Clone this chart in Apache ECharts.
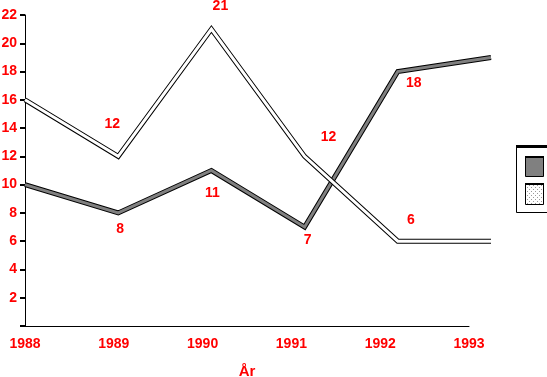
<!DOCTYPE html>
<html>
<head>
<meta charset="utf-8">
<script src="https://cdn.jsdelivr.net/npm/echarts@6/dist/echarts.min.js"></script>
<style>
html,body{margin:0;padding:0;background:#fff;}
#chart{width:547px;height:377px;}
</style>
</head>
<body>
<div id="chart"></div>
<script>
// ---- data ----
const categories = ['1988', '1989', '1990', '1991', '1992', '1993'];
const seriesA = [10, 8, 11, 7, 18, 19];   // dark grey series
const seriesB = [16, 12, 21, 12, 6, 6];   // white (dotted) series
const yTicks = [2, 4, 6, 8, 10, 12, 14, 16, 18, 20, 22];
const axisName = 'År';

// ---- label placement (style, not data) ----
const labelOffsetsA = [null, [2, 16], [1, 23], [3, 13], [16, 12], null];
const labelOffsetsB = [null, [-6, -32], [9, -23], [24, -19], [13, -21], null];

const RED = '#ff0000';
const FONT = 'Liberation Sans, Arial, sans-serif';
const FS = 14;

function labelled(values, offsets) {
  return values.map((v, i) => {
    const off = offsets[i];
    if (!off) return { value: v, label: { show: false } };
    return {
      value: v,
      label: {
        show: true, position: 'inside', offset: off,
        color: RED, fontSize: FS, fontWeight: 'bold', fontFamily: FONT,
        formatter: String(v)
      }
    };
  });
}

function lineSeries(data, color, width, z) {
  return {
    type: 'line', xAxisIndex: 1, yAxisIndex: 1,
    data: data, z: z,
    symbol: 'circle', symbolSize: 1, showSymbol: true,
    itemStyle: { color: 'rgba(0,0,0,0)' },
    lineStyle: { color: color, width: width, join: 'miter' },
    emphasis: { disabled: true },
    silent: true
  };
}

// dotted pattern for legend swatch
const pat = document.createElement('canvas');
pat.width = 4; pat.height = 4;
const pc = pat.getContext('2d');
pc.fillStyle = '#ffffff'; pc.fillRect(0, 0, 4, 4);
pc.fillStyle = '#9a9a9a'; pc.fillRect(1, 1, 1, 1); pc.fillRect(3, 3, 1, 1);

const chart = echarts.init(document.getElementById('chart'), null, { renderer: 'canvas' });
chart.setOption({
  animation: false,
  backgroundColor: '#ffffff',
  grid: [
    { left: 25, right: 78, top: 15, bottom: 51, containLabel: false, outerBoundsMode: 'none' },
    { left: 25, right: 56, top: 15, bottom: 51, containLabel: false, outerBoundsMode: 'none' }
  ],
  xAxis: [
    {
      gridIndex: 0, type: 'category', data: categories, boundaryGap: false,
      axisLine: { lineStyle: { color: '#000', width: 1 } },
      axisTick: { show: false },
      axisLabel: { color: RED, fontSize: FS, fontWeight: 'bold', fontFamily: FONT, margin: 11, interval: 0 },
      name: axisName, nameLocation: 'middle', nameGap: 38,
      nameTextStyle: { color: RED, fontSize: 15, fontWeight: 'bold', fontFamily: FONT },
      splitLine: { show: false }
    },
    {
      gridIndex: 1, type: 'category', data: categories, boundaryGap: false, show: false
    }
  ],
  yAxis: [
    {
      gridIndex: 0, type: 'value', min: 0, max: 22, interval: 2,
      axisLine: { show: true, lineStyle: { color: '#000', width: 1 } },
      axisTick: { show: true, length: 5, lineStyle: { color: '#000', width: 2 } },
      axisLabel: {
        color: RED, fontSize: FS, fontWeight: 'bold', fontFamily: FONT, margin: 8,
        padding: [0, 0, 4, 0],
        formatter: v => (yTicks.indexOf(v) >= 0 ? String(v) : '')
      },
      splitLine: { show: false }
    },
    { gridIndex: 1, type: 'value', min: 0, max: 22, show: false }
  ],
  series: [
    lineSeries(seriesA, '#000000', 5, 2),
    lineSeries(labelled(seriesA, labelOffsetsA), '#808080', 3, 3),
    lineSeries(seriesB, '#000000', 5, 4),
    lineSeries(labelled(seriesB, labelOffsetsB), '#ffffff', 3, 5)
  ],
  graphic: [
    { type: 'rect', shape: { x: 516.5, y: 147.5, width: 40, height: 65 },
      style: { fill: '#fff', stroke: '#000', lineWidth: 1 } },
    { type: 'rect', shape: { x: 516, y: 145, width: 40, height: 3 }, style: { fill: '#000' } },
    { type: 'rect', shape: { x: 525.5, y: 157.5, width: 18, height: 19 },
      style: { fill: '#808080', stroke: '#000', lineWidth: 1 } },
    { type: 'rect', shape: { x: 525, y: 156, width: 19, height: 2 }, style: { fill: '#000' } },
    { type: 'rect', shape: { x: 525.5, y: 184.5, width: 18, height: 20 },
      style: { fill: { image: pat, repeat: 'repeat' }, stroke: '#000', lineWidth: 1 } },
    { type: 'rect', shape: { x: 525, y: 183, width: 19, height: 2 }, style: { fill: '#000' } }
  ]
});
</script>
</body>
</html>
